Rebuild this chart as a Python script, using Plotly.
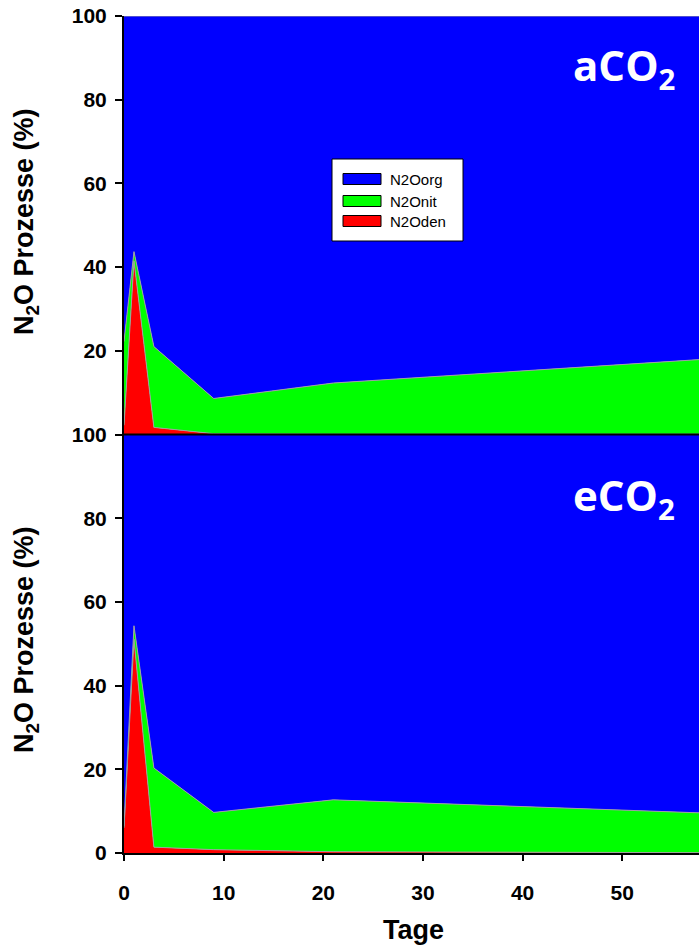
import plotly.graph_objects as go
from plotly.subplots import make_subplots

days = [0, 1, 3, 9, 21, 63]

# aCO2 panel (percent shares)
den_a = [2.2, 41.5, 1.7, 0.2, 0.1, 0.1]
nit_a = [20.0, 2.2, 19.3, 8.4, 12.2, 18.6]
org_a = [77.8, 56.3, 79.0, 91.4, 87.7, 81.3]

# eCO2 panel (percent shares)
den_e = [6.0, 51.1, 1.4, 0.8, 0.3, 0.05]
nit_e = [0.5, 3.2, 18.9, 8.9, 12.4, 9.1]
org_e = [93.5, 45.7, 79.7, 90.3, 87.3, 90.85]

series_names = ["N2Oden", "N2Onit", "N2Oorg"]
colors = ["#FF0000", "#00FF00", "#0000FF"]
x_ticks = [0, 10, 20, 30, 40, 50]
y_ticks = [0, 20, 40, 60, 80, 100]

W, H = 699, 947
L, R, T, B = 124, 0, 16, 94

fig = make_subplots(rows=2, cols=1, shared_xaxes=True, vertical_spacing=0)

for row, group, vals in [(1, "a", [den_a, nit_a, org_a]), (2, "e", [den_e, nit_e, org_e])]:
    for name, col, v in zip(series_names, colors, vals):
        fig.add_trace(go.Scatter(
            x=days, y=v, name=name, stackgroup=group, mode="lines",
            line=dict(color="#a0a0a0", width=1), fillcolor=col,
            showlegend=False, hoverinfo="x+y+name"), row=row, col=1)

font_fam = "Liberation Sans, Arial, sans-serif"
tickfont = dict(family=font_fam, size=21, color="black", weight="bold")

fig.update_xaxes(range=[0, 57.7], tickvals=x_ticks, showgrid=False, zeroline=False,
                 showline=True, linecolor="black", linewidth=2, mirror=False)
fig.update_xaxes(ticks="", row=1, col=1)
fig.update_xaxes(ticks="outside", ticklen=6, tickwidth=1.5, tickcolor="black",
                 tickfont=tickfont, ticklabelstandoff=14, row=2, col=1)
fig.update_yaxes(range=[0, 100], showgrid=False, zeroline=False, showline=True,
                 linecolor="black", linewidth=2, ticks="outside", ticklen=7,
                 tickwidth=1.5, tickcolor="black", tickfont=tickfont, ticklabelstandoff=4)
fig.update_yaxes(tickvals=y_ticks[1:], row=1, col=1)
fig.update_yaxes(tickvals=y_ticks, row=2, col=1)

pw = W - L - R
ph = H - T - B
def px(xp):
    return (xp - L) / pw
def py(yp):
    return (H - B - yp) / ph

ann = []
title_txt = "N<sub>2</sub>O Prozesse (%)"
for yc in [222, 640]:
    ann.append(dict(text=title_txt, textangle=-90, x=px(26), y=py(yc), xref="paper", yref="paper",
                    xanchor="center", yanchor="middle", showarrow=False,
                    font=dict(family=font_fam, size=27, color="black", weight="bold")))
ann.append(dict(text="Tage", x=px(413), y=py(930), xref="paper", yref="paper",
                xanchor="center", yanchor="middle", showarrow=False,
                font=dict(family=font_fam, size=27, color="black", weight="bold")))
for txt, xc, yc in [("aCO<sub>2</sub>", 624, 68), ("eCO<sub>2</sub>", 624, 498)]:
    ann.append(dict(text=txt, x=px(xc), y=py(yc), xref="paper", yref="paper",
                    xanchor="center", yanchor="middle", showarrow=False,
                    font=dict(family="Open Sans, sans-serif", size=42, color="white", weight="bold")))

# separator line between the panels and manual legend
shapes = [dict(type="line", xref="paper", yref="paper", x0=0, x1=1, y0=0.5, y1=0.5,
               line=dict(color="black", width=2), layer="above")]
shapes.append(dict(type="rect", xref="paper", yref="paper", x0=px(332), x1=px(463), y0=py(241), y1=py(159),
                   fillcolor="white", line=dict(color="black", width=1)))
leg_rows = [("N2Oorg", "#0000FF", 179), ("N2Onit", "#00FF00", 201), ("N2Oden", "#FF0000", 221)]
for name, col, yc in leg_rows:
    shapes.append(dict(type="rect", xref="paper", yref="paper", x0=px(343), x1=px(381),
                       y0=py(yc + 5.5), y1=py(yc - 5.5), fillcolor=col, line=dict(color="black", width=1)))
    ann.append(dict(text=name, x=px(388), y=py(yc), xref="paper", yref="paper",
                    xanchor="left", yanchor="middle", showarrow=False,
                    font=dict(family=font_fam, size=15, color="black")))

fig.update_layout(width=W, height=H, margin=dict(l=L, r=R, t=T, b=B),
                  paper_bgcolor="white", plot_bgcolor="white",
                  annotations=ann, shapes=shapes, showlegend=False)

fig.write_html("out.html")
